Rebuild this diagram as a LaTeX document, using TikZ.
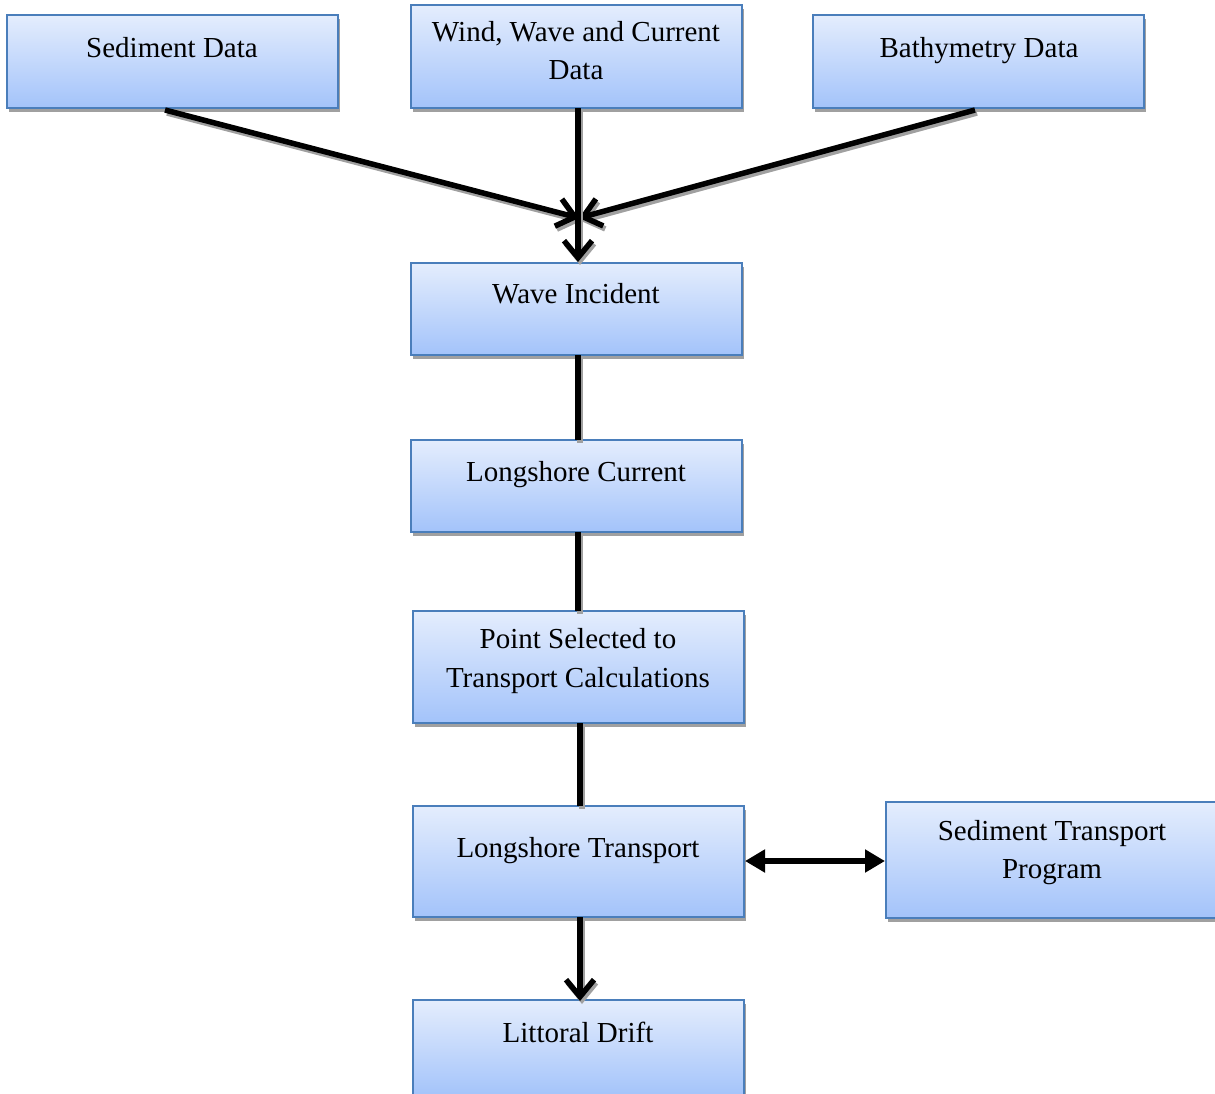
\documentclass[tikz,border=0pt]{standalone}
\usepackage{fontspec}
\setmainfont{Liberation Serif}
\usetikzlibrary{arrows.meta,shadows}
\definecolor{boxtop}{HTML}{E4EDFD}
\definecolor{boxbot}{HTML}{A3C3FA}
\definecolor{boxline}{HTML}{4A7EBB}
\definecolor{shad}{HTML}{A0A0A0}
\tikzset{
  fbox/.style={draw=boxline, line width=2pt, top color=boxtop, bottom color=boxbot,
    drop shadow={shadow xshift=2pt, shadow yshift=-3.5pt, fill=shad, opacity=1}},
  txt/.style={anchor=base, inner sep=0pt, font=\fontsize{29}{38}\selectfont},
  conn/.style={line width=5.5pt, black,
    preaction={draw=shad, line width=5.5pt, transform canvas={shift={(2pt,-3pt)}}}},
  barb/.style={-{Straight Barb[length=17pt,width=28pt,line width=5.5pt]}},
  dbl/.style={{Triangle[length=20pt,width=22pt]}-{Triangle[length=20pt,width=22pt]}}
}
\begin{document}
\begin{tikzpicture}[x=1pt,y=-1pt]
\useasboundingbox (0,0) rectangle (1215,1093);
% boxes
\path[fbox] (7,15) rectangle (338,108) node[pos=.5,inner sep=0pt] (sed) {};
\path[fbox] (411,5) rectangle (742,108) node[pos=.5,inner sep=0pt] (wind) {};
\path[fbox] (813,15) rectangle (1144,108) node[pos=.5,inner sep=0pt] (bath) {};
\path[fbox] (411,263) rectangle (742,355) node[pos=.5,inner sep=0pt] (wave) {};
\path[fbox] (411,440) rectangle (742,532) node[pos=.5,inner sep=0pt] (lcur) {};
\path[fbox] (413,611) rectangle (744,723) node[pos=.5,inner sep=0pt] (pts) {};
\path[fbox] (413,806) rectangle (744,917) node[pos=.5,inner sep=0pt] (ltr) {};
\path[fbox] (886,802) rectangle (1218,918) node[pos=.5,inner sep=0pt] (stp) {};
\path[fbox] (413,1000) rectangle (744,1097) node[pos=.5,inner sep=0pt] (lit) {};
% coordinates for connector ends
\coordinate (sedB) at (165,110);
\coordinate (windB) at (578,108);
\coordinate (bathB) at (975,110);
\coordinate (meet) at (579,218);
\coordinate (waveT) at (578,262);
\coordinate (waveB) at (578,355);
\coordinate (lcurT) at (578,440);
\coordinate (lcurB) at (578,532);
\coordinate (ptsT) at (578,611);
\coordinate (ptsB) at (580,723);
\coordinate (ltrT) at (580,806);
\coordinate (ltrB) at (580,917);
\coordinate (litT) at (580,1001);
\coordinate (ltrR) at (745,861);
\coordinate (stpL) at (885,861);
% texts
\node[txt] (t1) at (172,57) {Sediment Data};
\node[txt] (t2a) at (576,41) {Wind, Wave and Current};
\node[txt] (t2b) at (576,79) {Data};
\node[txt] (t3) at (979,57) {Bathymetry Data};
\node[txt] (t4) at (576,303) {Wave Incident};
\node[txt] (t5) at (576,481) {Longshore Current};
\node[txt] (t6a) at (578,648) {Point Selected to};
\node[txt] (t6b) at (578,687) {Transport Calculations};
\node[txt] (t7) at (578,857) {Longshore Transport};
\node[txt] (t8a) at (1052,840) {Sediment Transport};
\node[txt] (t8b) at (1052,878) {Program};
\node[txt] (t9) at (578,1042) {Littoral Drift};
% connectors
\draw[conn,barb] (sedB) -- (meet);
\draw[conn,barb] (bathB) -- (meet);
\draw[conn,barb] (windB) -- (waveT);
\draw[conn] (waveB) -- (lcurT);
\draw[conn] (lcurB) -- (ptsT);
\draw[conn] (ptsB) -- (ltrT);
\draw[conn,barb] (ltrB) -- (litT);
\draw[line width=5.5pt,dbl] (ltrR) -- (stpL);
\end{tikzpicture}
\end{document}
